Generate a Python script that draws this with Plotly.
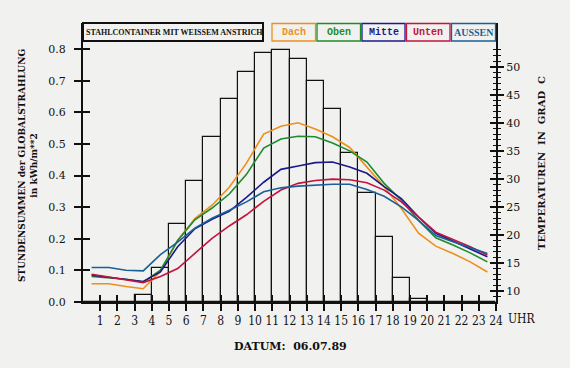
import plotly.graph_objects as go

# ---- data ----
hours = [h + 0.5 for h in range(24)]
hour_ticks = list(range(1, 25))
radiation = [0, 0, 0, 0.021, 0.108, 0.246, 0.384, 0.523, 0.641, 0.729, 0.787, 0.798,
             0.768, 0.700, 0.611, 0.472, 0.344, 0.206, 0.077, 0.009, 0, 0, 0, 0]
dach = [11.3, 11.3, 10.8, 10.4, 13.5, 19.0, 22.9, 25.3, 28.5, 32.8, 38.0, 39.4,
        40.0, 38.9, 37.5, 35.6, 32.1, 28.6, 24.7, 20.3, 18.0, 16.7, 15.2, 13.4]
oben = [12.6, 12.4, 12.1, 11.6, 13.7, 19.0, 22.7, 24.8, 27.3, 30.8, 35.5, 37.1,
        37.6, 37.5, 36.4, 35.0, 33.0, 29.2, 26.2, 22.6, 19.5, 18.2, 16.8, 15.2]
mitte = [12.8, 12.4, 12.0, 11.7, 13.4, 17.9, 21.1, 22.8, 24.2, 26.7, 29.4, 31.7,
         32.3, 32.9, 33.0, 32.1, 31.0, 28.6, 26.5, 23.2, 20.3, 18.9, 17.6, 16.1]
unten = [13.0, 12.5, 12.1, 11.5, 12.6, 14.0, 16.7, 19.4, 21.6, 23.6, 26.0, 28.0,
         29.2, 29.7, 29.95, 29.85, 29.3, 28.0, 25.9, 23.2, 20.5, 19.2, 17.9, 16.4]
aussen = [14.2, 14.2, 13.7, 13.6, 16.5, 18.7, 21.2, 23.0, 24.4, 25.9, 27.7, 28.4,
          28.7, 28.9, 29.05, 29.05, 28.1, 26.9, 25.0, 22.6, 19.9, 18.8, 17.8, 16.7]
series_names = ["Dach", "Oben", "Mitte", "Unten", "AUSSEN"]
series_values = [dach, oben, mitte, unten, aussen]
series_colors = ["#ee8f1c", "#1f8a2e", "#1c1a8a", "#c4123e", "#1a5f98"]
left_ticks = [0.0, 0.1, 0.2, 0.3, 0.4, 0.5, 0.6, 0.7, 0.8]
right_ticks = [10, 15, 20, 25, 30, 35, 40, 45, 50]
right_minor = list(range(9, 54))

BG = "#f1f1ef"
INK = "#111111"
SERIF = "DejaVu Serif"
NARROW = "DejaVu Serif Condensed, Liberation Serif, serif"

fig = go.Figure()
fig.add_trace(go.Bar(x=hours, y=radiation, width=1.0, marker=dict(color="rgba(0,0,0,0)",
                     line=dict(color=INK, width=1.2)), showlegend=False, hoverinfo="skip"))
for name, vals, col in zip(series_names, series_values, series_colors):
    fig.add_trace(go.Scatter(x=hours, y=vals, mode="lines", name=name, yaxis="y2",
                             line=dict(color=col, width=1.6), showlegend=False))
# empty traces so overlay tick axes are drawn
fig.add_trace(go.Scatter(x=[], y=[], xaxis="x3", yaxis="y3", showlegend=False))
fig.add_trace(go.Scatter(x=[], y=[], yaxis="y4", showlegend=False))

L, R, T, B = 83, 74, 23, 66
W, H = 570, 368
pw, ph = W - L - R, H - T - B
yr_left = [0, 0.883]
yr_right = [8.04, 57.8]

def px2x(px):
    return (px - L) / pw

def py2y(py):
    return (H - B - py) / ph

tickfont = dict(family=SERIF, size=11, color=INK)
fig.update_layout(
    width=W, height=H, margin=dict(l=L, r=R, t=T, b=B),
    paper_bgcolor=BG, plot_bgcolor=BG, bargap=0,
    xaxis=dict(range=[0, 24], tickvals=hour_ticks, ticks="outside", ticklen=7, tickwidth=1.5,
               tickcolor=INK, showline=True, linecolor=INK, linewidth=2, showgrid=False,
               zeroline=False, tickangle=0, tickfont=dict(family=NARROW, size=12, color=INK)),
    xaxis3=dict(range=[0, 24], overlaying="x", anchor="y", tickvals=hour_ticks, ticks="inside",
                ticklen=7, tickwidth=1.5, tickcolor=INK, showticklabels=False, showgrid=False,
                zeroline=False, showline=False),
    yaxis=dict(range=yr_left, tickvals=left_ticks, tickformat=".1f", ticks="outside", ticklen=7,
               tickwidth=2, tickcolor=INK, showline=True, linecolor=INK, linewidth=2,
               showgrid=False, zeroline=False, tickfont=tickfont, ticklabelstandoff=6),
    yaxis3=dict(range=yr_left, overlaying="y", anchor="x3", side="left", tickvals=left_ticks,
                ticks="inside", ticklen=7, tickwidth=2, tickcolor=INK, showticklabels=False,
                showgrid=False, zeroline=False, showline=False),
    yaxis2=dict(range=yr_right, overlaying="y", side="right", anchor="x", tickvals=right_ticks,
                ticks="outside", ticklen=6, tickwidth=2, tickcolor=INK, showline=True,
                linecolor=INK, linewidth=2, showgrid=False, zeroline=False, tickfont=tickfont,
                minor=dict(tickvals=right_minor, ticks="outside", ticklen=3, tickwidth=1.3,
                           tickcolor=INK)),
    yaxis4=dict(range=yr_right, overlaying="y", side="right", anchor="x", tickvals=right_ticks,
                ticks="inside", ticklen=6, tickwidth=2, tickcolor=INK, showticklabels=False,
                showgrid=False, zeroline=False, showline=False,
                minor=dict(tickvals=right_minor, ticks="inside", ticklen=3, tickwidth=1.3,
                           tickcolor=INK)),
)

shapes = []
annotations = []
def note(px, py, text, font, **kw):
    d = dict(xref="paper", yref="paper", x=px2x(px), y=py2y(py), text=text, showarrow=False,
             xanchor="center", yanchor="middle", font=font)
    d.update(kw)
    annotations.append(d)

# title box
shapes.append(dict(type="rect", xref="paper", yref="paper", x0=px2x(83), x1=px2x(263),
                   y0=py2y(41), y1=py2y(23), line=dict(color=INK, width=2), fillcolor=BG))
note(174, 32.5, "<b>STAHLCONTAINER MIT WEISSEM ANSTRICH</b>",
     dict(family="Liberation Serif", size=8, color=INK))
box_px = [(272, 315.5), (317, 360.5), (362, 405), (406.5, 450), (451.5, 495.5)]
for (a, b), name, col in zip(box_px, series_names, series_colors):
    shapes.append(dict(type="rect", xref="paper", yref="paper", x0=px2x(a), x1=px2x(b),
                       y0=py2y(41), y1=py2y(23.5), line=dict(color=col, width=1.3), fillcolor=BG))
    if name == "AUSSEN":
        f = dict(family="Liberation Serif", size=10, color=col)
    else:
        f = dict(family="Liberation Mono", size=10, color=col)
    note((a + b) / 2, 32.5, f"<b>{name}</b>", f)
# axis titles
note(28, 166, "<b>STUNDENSUMMEN der GLOBALSTRAHLUNG<br>in kWh/m**2</b>",
     dict(family=SERIF, size=9, color=INK), textangle=-90)
note(541, 163, "<b>TEMPERATUREN  IN  GRAD  C</b>",
     dict(family=SERIF, size=10, color=INK), textangle=-90)
note(506, 319, "UHR", dict(family=NARROW, size=12, color=INK), xanchor="left")
note(290, 346, "<b>DATUM:  06.07.89</b>", dict(family=SERIF, size=11, color=INK))
fig.update_layout(shapes=shapes, annotations=annotations)

fig.write_html("out.html", config={"displayModeBar": False},
               post_script="document.body.style.margin='0';document.body.style.padding='0';")
